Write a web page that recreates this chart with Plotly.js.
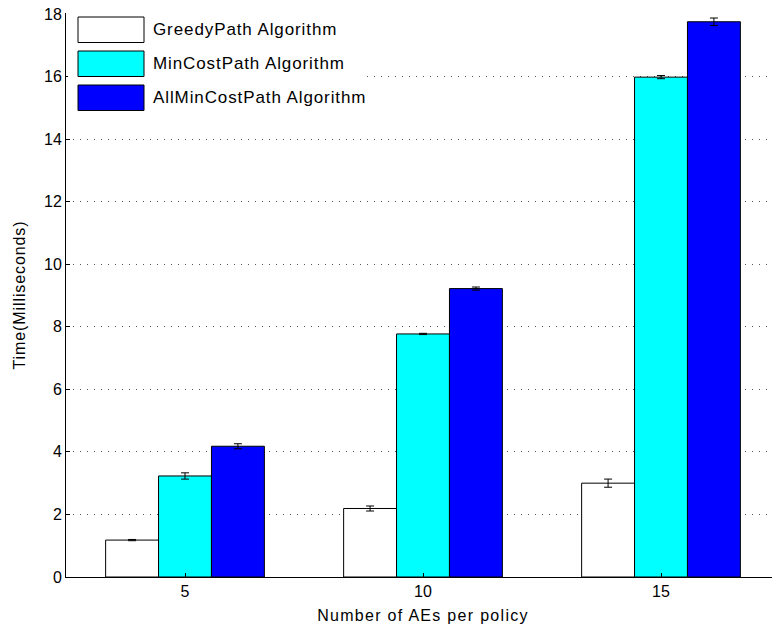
<!DOCTYPE html>
<html>
<head>
<meta charset="utf-8">
<script src="https://cdn.plot.ly/plotly-3.0.1.min.js"></script>
<style>
html,body{margin:0;padding:0;overflow:hidden;background:#fff;}
#chart{width:790px;height:628px;}
.g-xtitle text{letter-spacing:1.3px;}
.g-ytitle text{letter-spacing:0.9px;}
.annotation-text{letter-spacing:0.9px;}
</style>
</head>
<body>
<div id="chart"></div>
<script>
var categories = ["5", "10", "15"];
var seriesNames = ["GreedyPath Algorithm", "MinCostPath Algorithm", "AllMinCostPath Algorithm"];
var greedyValues = [1.18, 2.19, 3.0];
var greedyErrors = [0.02, 0.08, 0.13];
var minCostValues = [3.23, 7.77, 15.98];
var minCostErrors = [0.1, 0.02, 0.05];
var allMinCostValues = [4.18, 9.22, 17.75];
var allMinCostErrors = [0.08, 0.05, 0.12];
var yTickValues = [0, 2, 4, 6, 8, 10, 12, 14, 16, 18];

var colors = ["#ffffff", "#00ffff", "#0000ff"];
var xPos = categories.map(function (c, i) { return i + 1; });
var valueSets = [greedyValues, minCostValues, allMinCostValues];
var errorSets = [greedyErrors, minCostErrors, allMinCostErrors];

var traces = valueSets.map(function (vals, k) {
  return {
    type: "bar",
    name: seriesNames[k],
    x: xPos,
    y: vals,
    marker: {color: colors[k], line: {color: "#000000", width: 1}},
    error_y: {type: "data", array: errorSets[k], visible: true, color: "#000000", thickness: 1, width: 4},
    showlegend: false,
    hoverinfo: "x+y"
  };
});

// custom MATLAB-style legend (paper coordinates)
var plotTop = 13, plotBottom = 577, plotLeft = 66, plotRight = 780;
var plotW = plotRight - plotLeft, plotH = plotBottom - plotTop;
function px(x) { return (x - plotLeft) / plotW; }
function py(y) { return (plotBottom - y) / plotH; }
var shapes = [{
  type: "rect", xref: "paper", yref: "paper", layer: "above",
  x0: px(68), x1: px(366), y0: py(116), y1: py(16),
  fillcolor: "#ffffff", line: {width: 0}
}];
var annotations = [];
var patchTops = [17, 51, 85];
seriesNames.forEach(function (name, k) {
  var t = patchTops[k];
  shapes.push({
    type: "rect", xref: "paper", yref: "paper", layer: "above",
    x0: px(78), x1: px(144), y0: py(t + 25.5), y1: py(t),
    fillcolor: colors[k], line: {color: "#000000", width: 1}
  });
  annotations.push({
    xref: "paper", yref: "paper", x: px(151), y: py(t + 12.5),
    xanchor: "left", yanchor: "middle", showarrow: false,
    text: name, font: {family: "Liberation Sans, Arial, sans-serif", size: 17, color: "#000000"}
  });
});

var layout = {
  width: 790, height: 628,
  margin: {l: plotLeft, r: 790 - plotRight, t: plotTop, b: 628 - plotBottom},
  paper_bgcolor: "#ffffff", plot_bgcolor: "#ffffff",
  barmode: "group", bargap: 0.333, bargroupgap: 0,
  font: {family: "Liberation Sans, Arial, sans-serif", size: 16, color: "#000000"},
  xaxis: {
    range: [0.5, 3.5], tickvals: xPos, ticktext: categories,
    showgrid: false, zeroline: false, showline: true, linecolor: "#000000", linewidth: 1,
    ticks: "inside", ticklen: 4, tickcolor: "#000000",
    tickfont: {size: 16},
    title: {text: "Number of AEs per policy", font: {size: 16}, standoff: 10}
  },
  yaxis: {
    range: [0, 18.03], tickvals: yTickValues, ticktext: yTickValues.map(String),
    showgrid: true, gridcolor: "#555555", griddash: "1px,6px", gridwidth: 1,
    zeroline: false, showline: true, linecolor: "#000000", linewidth: 1,
    ticks: "inside", ticklen: 4, tickcolor: "#000000",
    tickfont: {size: 16},
    title: {text: "Time(Milliseconds)", font: {size: 16}, standoff: 14}
  },
  shapes: shapes,
  annotations: annotations
};

Plotly.newPlot("chart", traces, layout, {displayModeBar: false, staticPlot: true});
</script>
</body>
</html>
